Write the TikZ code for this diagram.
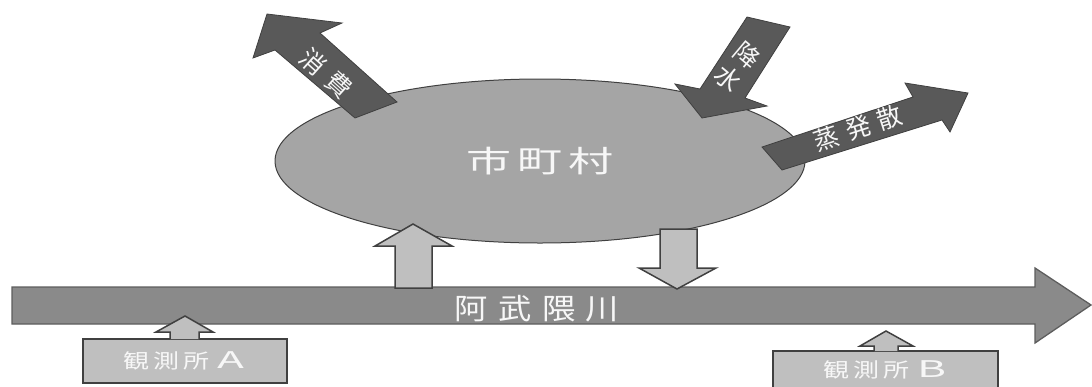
\documentclass[tikz,border=0pt]{standalone}
\usepackage{fontspec}
\newfontfamily\jp{Noto Sans CJK JP}
\usetikzlibrary{shapes.geometric}
\definecolor{darkarrow}{HTML}{595959}
\definecolor{edgegray}{HTML}{404040}
\definecolor{cityfill}{HTML}{A5A5A5}
\definecolor{riverfill}{HTML}{8A8A8A}
\definecolor{lightfill}{HTML}{BFBFBF}
\definecolor{txtwhite}{HTML}{F7F7F7}
\begin{document}
\begin{tikzpicture}[x=1pt,y=-1pt,
  darkblock/.style={fill=darkarrow, draw=edgegray, line width=0.8pt, line join=miter},
  lightblock/.style={fill=lightfill, draw=edgegray, line width=1.5pt, line join=miter},
  riverblock/.style={fill=riverfill, draw=edgegray!85, line width=1.3pt, line join=miter},
  lbl/.style={text=txtwhite, inner sep=0pt},
  obsbox/.style={rectangle, fill=lightfill, draw=edgegray, line width=1.5pt, minimum width=204pt, minimum height=44pt, inner sep=0pt},
]
\useasboundingbox (0,0) rectangle (1092,386);

% city ellipse
\node[ellipse, fill=cityfill, draw=edgegray, line width=1pt, minimum width=530pt, minimum height=164pt, inner sep=0pt] (city) at (540,161) {};

% consumption arrow
\draw[darkblock] (267,14) -- (253,58) -- (275,50) -- (355,118) -- (397,102) -- (320,33) -- (342,23) -- cycle;
% precipitation arrow
\draw[darkblock] (747,17) -- (790,27) -- (745,98) -- (767,106) -- (702,118) -- (675,84) -- (700,89) -- cycle;
% evapotranspiration arrow
\draw[darkblock] (762,147) -- (913,97) -- (905,83) -- (968,93) -- (950,132) -- (942,120) -- (782,170) -- cycle;

\node[lbl, font=\jp\fontsize{30}{30}\selectfont, xscale=1.5] (citylabel) at (540,161) {市\kern4pt 町\kern4pt 村};
\node[lbl, font=\jp\fontsize{25}{25}\selectfont, rotate=-42] (consume) at (326,73) {消\kern9pt 費};
\node[lbl, font=\jp\fontsize{25}{30}\selectfont, align=center, rotate=-40] (rain) at (738,67) {降\\水};
\node[lbl, font=\jp\fontsize{25}{25}\selectfont, rotate=18] (evap) at (858,128) {蒸\kern8pt 発\kern8pt 散};

% river
\draw[riverblock] (12,287) -- (1035,287) -- (1035,268) -- (1091,305) -- (1035,343) -- (1035,324) -- (12,324) -- cycle;
\node[lbl, font=\jp\fontsize{29}{29}\selectfont, xscale=1.15] (river) at (537,309) {阿\kern9pt 武\kern9pt 隈\kern9pt 川};

% exchange arrows
\draw[lightblock] (395,288) -- (395,246) -- (375,246) -- (413,224) -- (452,246) -- (432,246) -- (432,288) -- cycle;
\draw[lightblock] (660,229) -- (697,229) -- (697,268) -- (716,268) -- (677,289) -- (639,268) -- (660,268) -- cycle;

% observation stations
\node[obsbox] (obsA) at (185,361) {};
\node[lbl, font=\jp\fontsize{20}{20}\selectfont, xscale=1.3] (obsAlabel) at (184,361) {観\kern3pt 測\kern3pt 所\kern6pt\scalebox{1.7}[1.15]{A}};
\draw[lightblock] (170,339) -- (170,332) -- (156,332) -- (185,316) -- (213,332) -- (199,332) -- (199,339);

\node[obsbox, minimum width=225pt] (obsB) at (885.5,373) {};
\node[lbl, font=\jp\fontsize{20}{20}\selectfont, xscale=1.3] (obsBlabel) at (885,370) {観\kern3pt 測\kern3pt 所\kern6pt\scalebox{1.7}[1.15]{B}};
\draw[lightblock] (874,351) -- (874,346) -- (860,346) -- (886,331) -- (913,346) -- (898,346) -- (898,351);
\end{tikzpicture}
\end{document}
